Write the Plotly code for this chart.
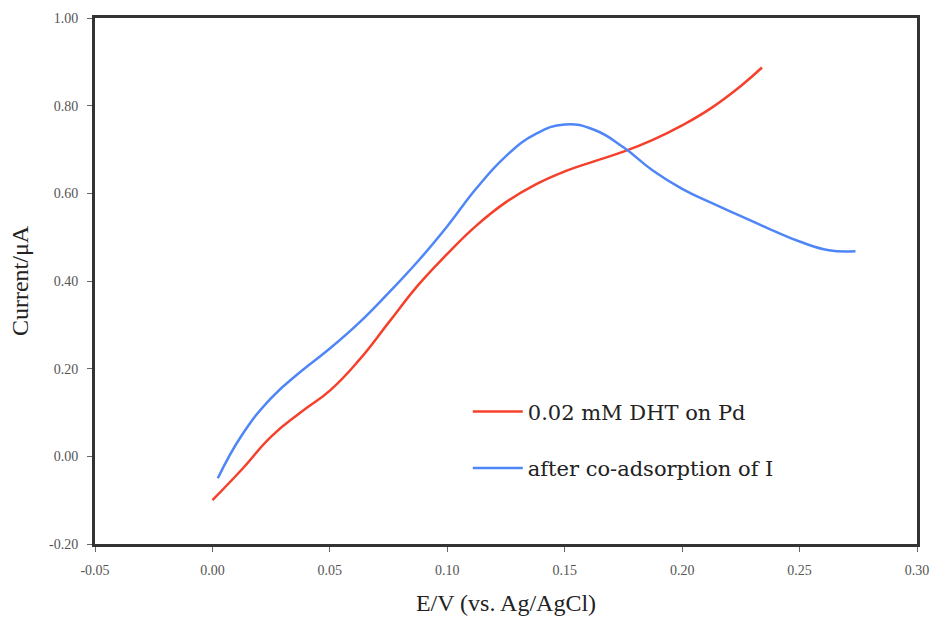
import plotly.graph_objects as go

# Data
red_x = [0.000, 0.0125, 0.025, 0.0375, 0.050, 0.0625, 0.075, 0.0875, 0.100, 0.1125, 0.125,
         0.1375, 0.150, 0.1625, 0.175, 0.1875, 0.200, 0.2125, 0.225, 0.234]
red_y = [-0.100, -0.030, 0.045, 0.100, 0.150, 0.220, 0.305, 0.390, 0.462, 0.527, 0.580,
         0.620, 0.650, 0.673, 0.695, 0.722, 0.755, 0.795, 0.845, 0.887]

blue_x = [0.0023, 0.0125, 0.025, 0.0375, 0.050, 0.0625, 0.075, 0.0875, 0.100, 0.1125, 0.125,
          0.1375, 0.150, 0.1625, 0.175, 0.1875, 0.200, 0.2125, 0.225, 0.2375, 0.250, 0.2625, 0.2738]
blue_y = [-0.050, 0.048, 0.133, 0.193, 0.246, 0.305, 0.373, 0.445, 0.525, 0.612, 0.685,
          0.735, 0.757, 0.745, 0.705, 0.652, 0.610, 0.578, 0.548, 0.518, 0.490, 0.470, 0.468]

x_ticks = [-0.05, 0.00, 0.05, 0.10, 0.15, 0.20, 0.25, 0.30]
y_ticks = [-0.20, 0.00, 0.20, 0.40, 0.60, 0.80, 1.00]

fig = go.Figure()
fig.add_trace(go.Scatter(x=red_x, y=red_y, mode="lines", name="0.02 mM DHT on Pd",
                         line=dict(color="#f5402c", width=2.5, shape="spline", smoothing=1.3),
                         legendgroup="a"))
fig.add_trace(go.Scatter(x=blue_x, y=blue_y, mode="lines", name="after co-adsorption of I",
                         line=dict(color="#4f86f7", width=2.5, shape="spline", smoothing=1.3),
                         legendgroup="b"))

axis_common = dict(
    showline=True, linecolor="#333333", linewidth=3, mirror=True,
    showgrid=False, zeroline=False, automargin=False, ticklabeloverflow="allow",
    ticks="outside", ticklen=5, tickcolor="#666666", tickwidth=1,
    tickfont=dict(family="Liberation Serif", size=14, color="#555555"),
)

fig.update_xaxes(range=[-0.05, 0.30], tickvals=x_ticks,
                 ticktext=[f"{v:.2f}" for v in x_ticks],
                 ticklabelstandoff=6,
                 title=dict(text="E/V (vs. Ag/AgCl)", standoff=18,
                            font=dict(family="Liberation Serif", size=24, color="#222222")),
                 **axis_common)
fig.update_yaxes(range=[-0.20, 1.00], tickvals=y_ticks,
                 ticktext=[f"{v:.2f}" for v in y_ticks],
                 ticklabelstandoff=6,
                 title=dict(text="Current/μA", standoff=14,
                            font=dict(family="Liberation Serif", size=24, color="#222222")),
                 **axis_common)

fig.update_layout(
    width=932, height=619,
    margin=dict(l=95, r=15, t=18, b=75),
    paper_bgcolor="white", plot_bgcolor="white",
    showlegend=True,
    legend=dict(x=0.4535, y=0.29, xanchor="left", yanchor="top",
                bgcolor="rgba(0,0,0,0)", traceorder="grouped", tracegroupgap=26,
                itemwidth=50,
                font=dict(family="DejaVu Serif", size=21, color="#222222")),
)

# remove the default page margin so the 932x619 figure fills the window exactly
fig.write_html("out.html",
               config={"displayModeBar": False},
               post_script="document.body.style.margin='0';document.body.style.overflow='hidden';")
